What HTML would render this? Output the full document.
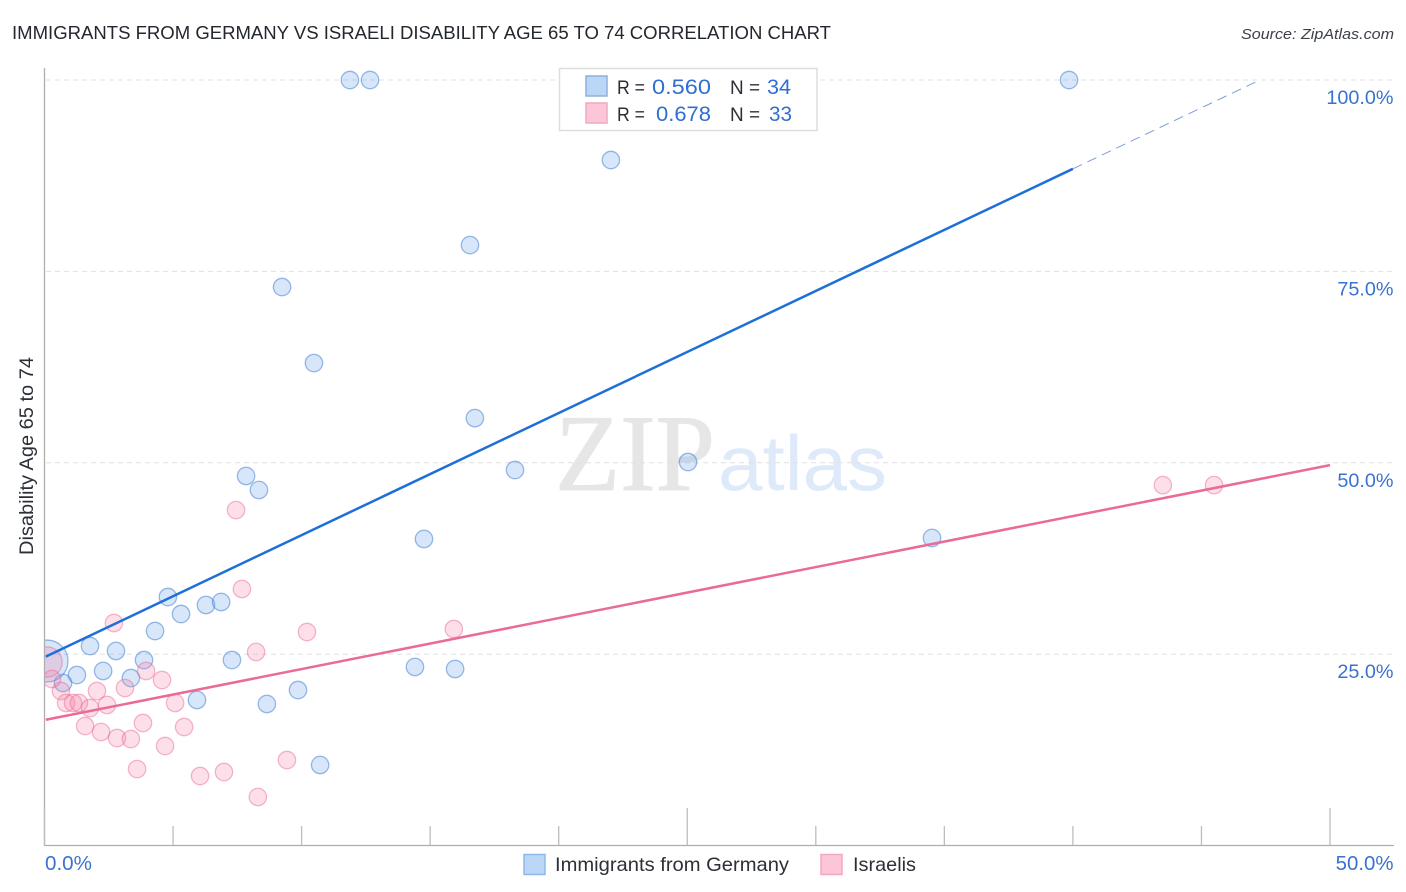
<!DOCTYPE html>
<html lang="en">
<head>
<meta charset="utf-8">
<title>Immigrants from Germany vs Israeli Disability Age 65 to 74 Correlation Chart</title>
<style>
html,body{margin:0;padding:0;background:#fff;width:1406px;height:892px;overflow:hidden}
svg{display:block}
text{font-family:"Liberation Sans",sans-serif}
</style>
</head>
<body>
<svg id="chart" width="1406" height="892" viewBox="0 0 1406 892" xmlns="http://www.w3.org/2000/svg">
  <defs>
    <clipPath id="plot-clip"><rect x="45" y="60" width="1349" height="785"/></clipPath>
  </defs>
  <rect width="1406" height="892" fill="#fff"/>
  <text x="12" y="39" font-size="18.5" fill="#23272e" textLength="819" lengthAdjust="spacingAndGlyphs">IMMIGRANTS FROM GERMANY VS ISRAELI DISABILITY AGE 65 TO 74 CORRELATION CHART</text>
  <text x="1241" y="39" font-size="15" font-style="italic" fill="#3c4048" textLength="153" lengthAdjust="spacingAndGlyphs">Source: ZipAtlas.com</text>

  <g>
    <text x="555" y="490" font-size="109" fill="#e6e6e6" stroke="#e6e6e6" stroke-width="1" style="font-family:'Liberation Serif',serif" textLength="160" lengthAdjust="spacingAndGlyphs">ZIP</text>
    <text x="718" y="490" font-size="78" fill="#deeafa" textLength="169" lengthAdjust="spacingAndGlyphs">atlas</text>
  </g>

  <g id="grid"></g>
  <g id="marks-blue" clip-path="url(#plot-clip)"></g>
  <g id="marks-pink" clip-path="url(#plot-clip)"></g>
  <g id="lines"></g>
  <g id="axes"></g>

  <text transform="translate(33,555) rotate(-90)" font-size="19" fill="#2b2f36" textLength="198" lengthAdjust="spacingAndGlyphs">Disability Age 65 to 74</text>

  <g>
    <rect x="559.5" y="68.5" width="257.5" height="62" fill="#fff" stroke="#dedede" stroke-width="1.5"/>
    <rect x="586" y="76" width="21" height="20" fill="#bcd6f8" stroke="#8fb0dc" stroke-width="1.5"/>
    <rect x="586" y="103" width="21" height="20" fill="#fcc6d8" stroke="#f0a9c1" stroke-width="1.5"/>
    <text x="617" y="94" font-size="19.5" fill="#2b2f36" textLength="28" lengthAdjust="spacingAndGlyphs">R =</text>
    <text x="652" y="94" font-size="21" fill="#2f6fd0" textLength="59" lengthAdjust="spacingAndGlyphs">0.560</text>
    <text x="730" y="94" font-size="19.5" fill="#2b2f36" textLength="30" lengthAdjust="spacingAndGlyphs">N =</text>
    <text x="767" y="94" font-size="21" fill="#2f6fd0" textLength="24" lengthAdjust="spacingAndGlyphs">34</text>
    <text x="617" y="121" font-size="19.5" fill="#2b2f36" textLength="28" lengthAdjust="spacingAndGlyphs">R =</text>
    <text x="656" y="121" font-size="21" fill="#2f6fd0" textLength="55" lengthAdjust="spacingAndGlyphs">0.678</text>
    <text x="730" y="121" font-size="19.5" fill="#2b2f36" textLength="30" lengthAdjust="spacingAndGlyphs">N =</text>
    <text x="769" y="121" font-size="21" fill="#2f6fd0" textLength="23" lengthAdjust="spacingAndGlyphs">33</text>
  </g>

  <g>
    <rect x="524" y="854.5" width="21" height="20" fill="#bcd6f8" stroke="#8fb8ea" stroke-width="1.5"/>
    <text x="555" y="871" font-size="19.5" fill="#2b2f36" textLength="234" lengthAdjust="spacingAndGlyphs">Immigrants from Germany</text>
    <rect x="821" y="854.5" width="21" height="20" fill="#fcc6d8" stroke="#f0a9c1" stroke-width="1.5"/>
    <text x="853" y="871" font-size="19.5" fill="#2b2f36" textLength="63" lengthAdjust="spacingAndGlyphs">Israelis</text>
  </g>
</svg>
<script>
// Chart data (x = Immigrants from Germany %, y = Disability Age 65 to 74 %)
const germanyX = [11.88,12.66,39.85,22.03,16.55,9.24,10.48,16.74,18.30,25.03,7.84,8.34,14.76,34.52,4.80,5.31,6.28,6.87,4.30,1.77,2.78,3.87,7.29,14.41,15.97,2.28,3.36,1.26,0.72,5.93,9.86,8.65,10.72,0.10];
const germanyY = [100,100,100,89.55,78.44,72.96,63.03,55.84,49.06,50.10,48.28,46.45,40.05,40.18,32.47,30.25,31.43,31.82,28.03,26.07,25.42,24.24,24.24,23.33,23.07,22.81,21.89,22.28,21.24,19.02,20.32,18.50,10.53,24.11];
const germanyWeight = [1,1,1,1,1,1,1,1,1,1,1,1,1,1,1,1,1,1,1,1,1,1,1,1,1,1,1,1,1,1,1,1,1,5.8];
const israelisX = [7.45,7.68,2.70,10.21,15.92,8.23,3.95,4.57,2.04,3.13,0.64,0.84,1.11,1.34,1.77,2.43,5.08,1.58,2.20,2.82,3.36,3.83,5.43,4.69,3.60,6.05,6.98,9.43,8.30,43.50,45.49,0.29,0.10];
const israelisY = [43.83,33.52,29.08,27.90,28.29,25.29,22.81,21.63,20.19,20.58,20.19,18.63,18.63,18.63,17.97,18.37,18.63,15.62,14.84,14.05,13.92,16.01,15.49,13.01,10.0,9.09,9.61,11.18,6.35,47.09,47.09,21.76,23.98];
const israelisWeight = [1,1,1,1,1,1,1,1,1,1,1,1,1,1,1,1,1,1,1,1,1,1,1,1,1,1,1,1,1,1,1,1,3];
const germanyTrend = [24.6, 1.595];
const israelisTrend = [16.4, 0.666];
const germanySolidEnd = 40;
const xTicks = [0,5,10,15,20,25,30,35,40,45,50];
const xMajorTicks = [0,25,50];
const xTickLabels = ["0.0%","50.0%"];
const yTicks = [100,75,50,25];
const yTickLabels = ["100.0%","75.0%","50.0%","25.0%"];

const NS = 'http://www.w3.org/2000/svg';
const xScale = v => 44.5 + v * 25.71;
const yScale = v => 845.6 - v * 7.656;
function make(parent, tag, attrs) {
  const el = document.createElementNS(NS, tag);
  for (const k in attrs) el.setAttribute(k, attrs[k]);
  parent.appendChild(el);
  return el;
}

const grid = document.getElementById('grid');
yTicks.forEach(v => {
  const g = make(grid, 'line', {x1: 46, x2: 1393, y1: yScale(v), y2: yScale(v), stroke: '#e0e0e0', 'stroke-width': 1, 'stroke-dasharray': '5 4'});
  
  
});

function drawPoints(groupId, xs, ys, weights, fill, stroke, name) {
  const group = document.getElementById(groupId);
  xs.forEach((x, i) => {
    const c = make(group, 'circle', {cx: xScale(x), cy: yScale(ys[i]), r: 8.7 * Math.sqrt(weights[i]), fill: fill, stroke: stroke, 'stroke-width': 1.3});
    
    
  });
}
drawPoints('marks-blue', germanyX, germanyY, germanyWeight, 'rgba(110,165,235,0.28)', 'rgba(55,120,210,0.5)', 'germany-point');
drawPoints('marks-pink', israelisX, israelisY, israelisWeight, 'rgba(245,130,170,0.26)', 'rgba(232,100,145,0.45)', 'israelis-point');

const lines = document.getElementById('lines');
const trendAt = (t, x) => t[0] + t[1] * x;
const germanyDashEnd = (100 - germanyTrend[0]) / germanyTrend[1];
const blueDash = make(lines, 'line', {x1: xScale(germanySolidEnd), y1: yScale(trendAt(germanyTrend, germanySolidEnd)), x2: xScale(germanyDashEnd), y2: yScale(100), stroke: '#7d9fd6', 'stroke-width': 1, 'stroke-dasharray': '10 6'});


const blueLine = make(lines, 'line', {x1: xScale(0.05), y1: yScale(trendAt(germanyTrend, 0.05)), x2: xScale(germanySolidEnd), y2: yScale(trendAt(germanyTrend, germanySolidEnd)), stroke: '#1f6fd8', 'stroke-width': 2.5});


const pinkLine = make(lines, 'line', {x1: xScale(0.05), y1: yScale(trendAt(israelisTrend, 0.05)), x2: xScale(50), y2: yScale(trendAt(israelisTrend, 50)), stroke: '#ea6a98', 'stroke-width': 2.5});



const axes = document.getElementById('axes');
const yAxis = make(axes, 'line', {x1: 44.5, x2: 44.5, y1: 68, y2: 846, stroke: '#aeaeae', 'stroke-width': 1.3});


const xAxis = make(axes, 'line', {x1: 44, x2: 1394, y1: 845.5, y2: 845.5, stroke: '#aeaeae', 'stroke-width': 1.3});


xTicks.forEach(v => {
  const top = xMajorTicks.includes(v) ? 808 : 826;
  const t = make(axes, 'line', {x1: xScale(v), x2: xScale(v), y1: top, y2: 845, stroke: '#bdbdbd', 'stroke-width': 1.3});
  
  
});
yTicks.forEach((v, i) => {
  const t = make(axes, 'text', {x: 1393.5, y: yScale(v) + 24, 'text-anchor': 'end', 'font-size': 19.8, fill: '#3a72cf'});
  t.textContent = yTickLabels[i];
  
  
});
const x0 = make(axes, 'text', {x: 45, y: 870, 'font-size': 20.6, fill: '#3a72cf'});
x0.textContent = xTickLabels[0];


const x1 = make(axes, 'text', {x: 1393.5, y: 870, 'text-anchor': 'end', 'font-size': 20.4, fill: '#3a72cf'});
x1.textContent = xTickLabels[1];


</script>
</body>
</html>
